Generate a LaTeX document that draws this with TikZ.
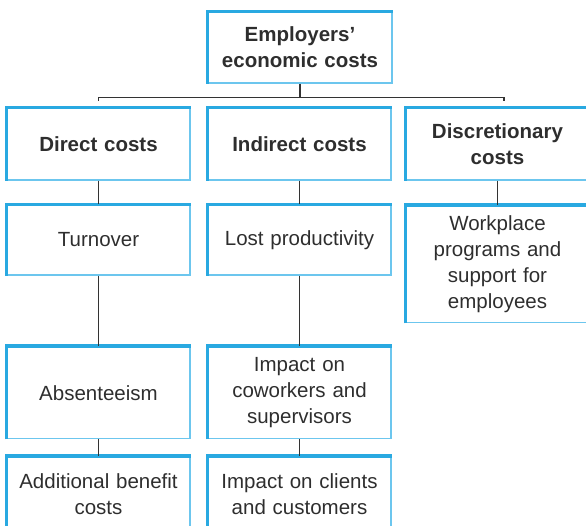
\documentclass[tikz,border=0pt]{standalone}
\usepackage{fontspec}
\setmainfont{Liberation Sans}
\usetikzlibrary{positioning}

\definecolor{boxblue}{HTML}{29A9E1}
\definecolor{boxlight}{HTML}{6CC6EE}
\definecolor{linegray}{HTML}{333333}
\definecolor{textgray}{HTML}{2E2E2E}

\tikzset{
	costbox/.style={draw=boxlight, line width=1.4pt, minimum width=183pt, text width=172pt,
		align=center, inner sep=0pt, text=textgray, font=\fontsize{20.5}{26}\selectfont},
	headbox/.style={costbox, minimum height=72pt, font=\fontsize{20.5}{26}\selectfont\bfseries},
	topedge/.style={draw=boxblue, line width=3.4pt},
	link/.style={draw=linegray, line width=1.1pt}
}

\begin{document}
\begin{tikzpicture}[x=1pt, y=-1pt]
			\useasboundingbox (0,0) rectangle (586,525);
			\clip (0,0) rectangle (586,525);

			
			\node[headbox, minimum width=184pt, minimum height=71pt](emp) at (300,47.5){Employers'\\economic costs};

			
			\node[headbox](dir) at (98.5,144){Direct costs};
			\node[headbox](ind) at (299.5,144){Indirect costs};
			\node[headbox](disc) at (497.5,144){Discretionary\\costs};

			
			\node[costbox, minimum height=70pt](turn) at (98.5,240){Turnover};
			\node[costbox, minimum height=92pt, anchor=north](abs) at (98.5,346){Absenteeism};
			\node[costbox, minimum height=74pt, anchor=north](add) at (98.5,456){Additional benefit\\costs};

			
			\node[costbox, minimum height=70pt](prod) at (299.5,240){Lost productivity};
			\node[costbox, minimum height=92pt, anchor=north](cow) at (299.5,346){Impact on\\coworkers and\\supervisors};
			\node[costbox, minimum height=74pt, anchor=north](cli) at (299.5,456){Impact on clients\\and customers};

			
			\node[costbox, minimum height=117pt, anchor=north](work) at (497.5,205){Workplace\\programs and\\support for\\employees};

			
			\foreach \n in {emp,dir,ind,disc,turn,abs,add,prod,cow,cli,work}
				\draw[topedge] (\n.south west) |- (\n.north east);

			
			\draw[link] (emp.south) -- ++(0,13.5) coordinate(bus);
			\draw[link, shorten >=6.5pt] (bus) -| (dir.north);
			\draw[link, shorten >=6.5pt] (bus) -| ([xshift=6.5pt]disc.north);
			\draw[link] (dir.south) -- (turn.north);
			\draw[link] (turn.south) -- (abs.north);
			\draw[link] (abs.south) -- (add.north);
			\draw[link] (ind.south) -- (prod.north);
			\draw[link] (prod.south) -- (cow.north);
			\draw[link] (cow.south) -- (cli.north);
			\draw[link] (disc.south) -- (work.north);
\end{tikzpicture}
\end{document}
